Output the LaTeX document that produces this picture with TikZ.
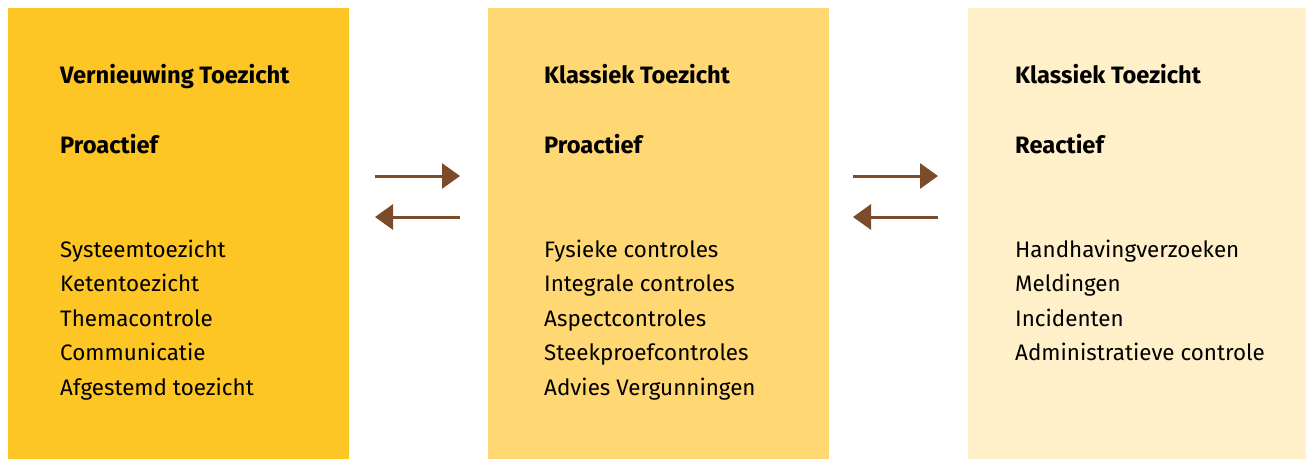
\documentclass[tikz,border=0pt]{standalone}
\usepackage{fontspec}
\setmainfont{Fira Sans}
\usepackage{xcolor}
\usetikzlibrary{arrows.meta,positioning}
\definecolor{goldDark}{HTML}{FDC624}
\definecolor{goldMid}{HTML}{FFD773}
\definecolor{goldLight}{HTML}{FFF0C9}
\definecolor{arrowBrown}{HTML}{7B4B2A}
\tikzstyle{pane} = [rectangle, anchor=north west, minimum width=341pt, minimum height=451pt, inner sep=0pt]
\tikzstyle{head} = [anchor=base west, inner sep=0pt, font=\bfseries\fontsize{23.7}{28}\selectfont]
\tikzstyle{item} = [anchor=base west, inner sep=0pt, font=\fontsize{22.4}{27}\selectfont]
\tikzstyle{flow} = [draw=arrowBrown, line width=3pt, -{Triangle[length=18pt,width=25pt]}]
\begin{document}
\begin{tikzpicture}[x=1pt, y=-1pt]
\useasboundingbox (0,0) rectangle (1306,459);

\node (vern) [pane, fill=goldDark] at (8,8) {};
\node (klasPro) [pane, fill=goldMid] at (488,8) {};
\node (klasRe) [pane, fill=goldLight, minimum width=338pt] at (968,8) {};

\node (vernHead) [head] at (60,83) {Vernieuwing Toezicht};
\node (vernMode) [head] at (60,153) {Proactief};
\foreach \t [count=\i] in {Systeemtoezicht, Ketentoezicht, Themacontrole, Communicatie, Afgestemd toezicht}
  \node (vernItem\i) [item] at (60,222.5+34.5*\i) {\t};

\node (klasProHead) [head] at (544,83) {Klassiek Toezicht};
\node (klasProMode) [head] at (544,153) {Proactief};
\foreach \t [count=\i] in {Fysieke controles, Integrale controles, Aspectcontroles, Steekproefcontroles, Advies Vergunningen}
  \node (klasProItem\i) [item] at (544,222.5+34.5*\i) {\t};

\node (klasReHead) [head] at (1015,83) {Klassiek Toezicht};
\node (klasReMode) [head] at (1015,153) {Reactief};
\foreach \t [count=\i] in {Handhavingverzoeken, Meldingen, Incidenten, Administratieve controle}
  \node (klasReItem\i) [item] at (1015,222.5+34.5*\i) {\t};

% arrows between the panes
\coordinate (leftTop) at (375,176);
\coordinate (leftTopEnd) at (460,176);
\coordinate (leftBot) at (460,217);
\coordinate (leftBotEnd) at (375,217);
\coordinate (rightTop) at (853,176);
\coordinate (rightTopEnd) at (938,176);
\coordinate (rightBot) at (938,217);
\coordinate (rightBotEnd) at (853,217);

\draw[flow] (leftTop) -- (leftTopEnd);
\draw[flow] (leftBot) -- (leftBotEnd);
\draw[flow] (rightTop) -- (rightTopEnd);
\draw[flow] (rightBot) -- (rightBotEnd);

\end{tikzpicture}
\end{document}
